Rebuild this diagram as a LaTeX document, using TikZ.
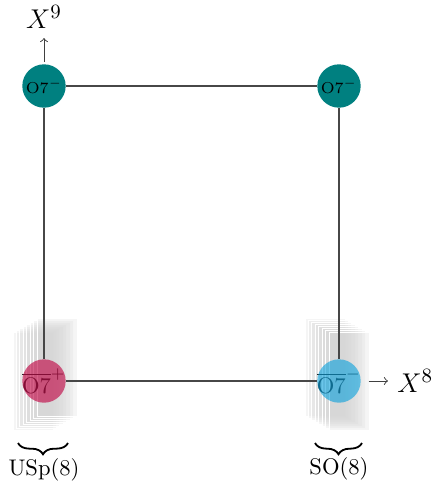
\documentclass[tikz,border=0pt]{standalone}
\usetikzlibrary{decorations.pathreplacing}
\definecolor{ballblue}{RGB}{0,158,220}
\begin{document}
\begin{tikzpicture}[x=0.4425pt,y=-0.4425pt,
  plate/.style={fill=black!18, fill opacity=0.22, draw=white, draw opacity=1, line width=0.35pt},
  brane/.style={circle, minimum size=19.2pt, inner sep=0pt},
  leg/.style={draw=black!72, line width=0.55pt},
  arr/.style={->, draw=black!75, line width=0.4pt},
  brc/.style={decorate, decoration={brace, amplitude=5pt, mirror}, line width=0.8pt},
  axlbl/.style={font=\fontsize{13}{15}\selectfont}
]
\useasboundingbox (0,0) rectangle (435,489);
% D7 plates
\foreach \i in {0,...,7} {
  \draw[plate] ({13+3.43*\i},{332-2*\i}) rectangle ++(40,98);
}
\foreach \i in {0,...,7} {
  \draw[plate] ({305+3.43*\i},{318+2*\i}) rectangle ++(40,98);
}
% top O7 planes
\node[brane, fill=teal] (tl) at (44,86) {\scriptsize O7$^-$};
\node[brane, fill=teal] (tr) at (339,86) {\scriptsize O7$^-$};
% bottom O7 planes (text under translucent balls)
\node[text=black!85] (blt) at (44,381) {$\overline{\mathrm{O7}}^{+}$};
\node[text=black!85] (brt) at (339,381) {$\overline{\mathrm{O7}}^{-}$};
\node[brane, fill=purple, fill opacity=0.62] (bl) at (44,381) {};
\node[brane, fill=ballblue, fill opacity=0.58] (br) at (339,381) {};
% square
\draw[leg] (tl) -- (tr);
\draw[leg] (tl) -- (bl);
\draw[leg] (tr) -- (br);
\draw[leg] (bl) -- (br);
% axes
\coordinate (x9tip) at (44,38);
\coordinate (x8tip) at (388,381);
\draw[arr, shorten <=0.8pt] (tl) -- (x9tip);
\draw[arr, shorten <=3.3pt] (br) -- (x8tip);
\node[axlbl] (x9) at (44,17) {$X^9$};
\node[axlbl, anchor=west, inner sep=4pt] (x8) at (388,381) {$X^8$};
% braces
\coordinate (bla) at (18,443);
\coordinate (blb) at (68,443);
\coordinate (bra) at (315,443);
\coordinate (brb) at (362,443);
\draw[brc] (bla) -- (blb);
\draw[brc] (bra) -- (brb);
\node (usp) at (44,470) {USp(8)};
\node (so) at (339,469) {SO(8)};
\end{tikzpicture}
\end{document}
